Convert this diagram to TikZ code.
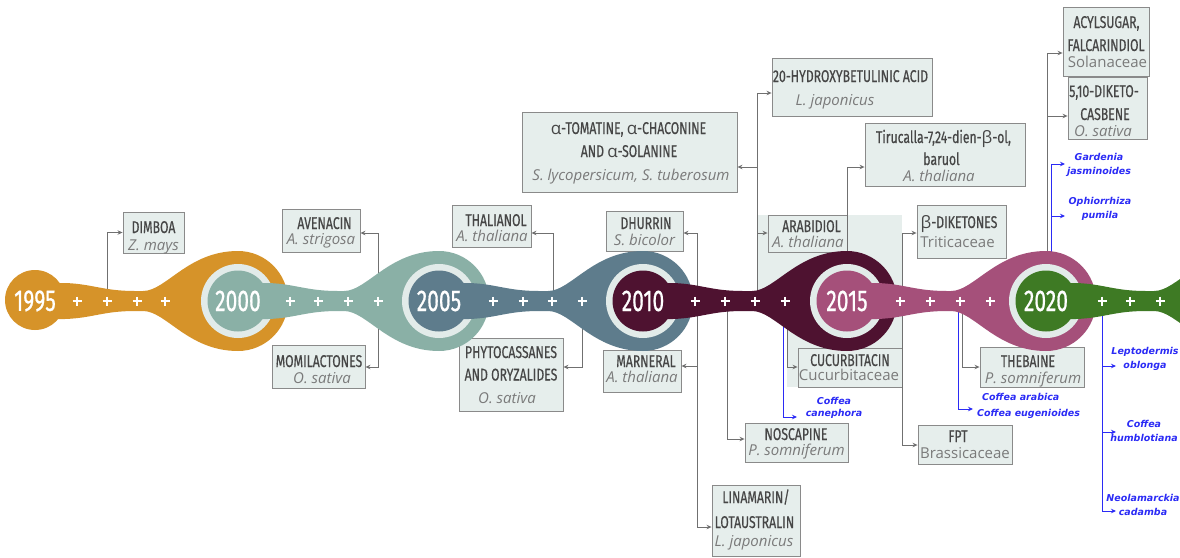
\documentclass[tikz,border=0pt]{standalone}
\usepackage{fontspec}
\usetikzlibrary{arrows.meta,fit}
\newfontfamily\nmfont[FakeStretch=0.72,FakeBold=0.45]{Fira Sans}
\newfontfamily\yrfont[FakeStretch=0.70,FakeBold=0.6]{Fira Sans}
\newfontfamily\spfont{Open Sans}
\newfontfamily\grkfont{Open Sans}
\newfontfamily\blfont{DejaVu Sans}
\newcommand\gA{{\grkfont α}}
\newcommand\gB{{\grkfont β}}

\definecolor{c95}{HTML}{D69329}
\definecolor{c00}{HTML}{8AB0A6}
\definecolor{c05}{HTML}{5E7C8C}
\definecolor{c10}{HTML}{4E1230}
\definecolor{c15}{HTML}{A5507A}
\definecolor{c20}{HTML}{3E7A24}
\definecolor{ringc}{HTML}{E2EBE9}
\definecolor{boxfill}{HTML}{E6EEEC}
\definecolor{boxline}{HTML}{8A8A8A}
\definecolor{nametext}{HTML}{464646}
\definecolor{sptext}{HTML}{7A7A7A}
\definecolor{linegray}{HTML}{707070}
\definecolor{lineblue}{HTML}{2B2BF5}

% one coloured stretch of the timeline: band leaving year #2,
% narrowing, then flaring into the bulb around year #3
\newcommand\spineseg[3]{%
  \fill[#1] (#2,283) -- ({#2+30},283)
    .. controls ({#2+58},284) and ({#2+68},291) .. ({#2+100},291)
    -- ({#3-95},291)
    .. controls ({#3-72},291) and ({#3-50},251) .. (#3,251)
    arc[start angle=90, end angle=-90, radius=50pt]
    .. controls ({#3-50},351) and ({#3-72},311) .. ({#3-95},311)
    -- ({#2+100},311)
    .. controls ({#2+68},311) and ({#2+58},318) .. ({#2+30},319)
    -- (#2,319) -- cycle;}
% light ring and inner disk of a year bulb
\newcommand\yearbulb[2]{%
  \fill[ringc] (#1,301) circle[radius=37pt];
  \fill[#2] (#1,301) circle[radius=30.5pt];}

\tikzset{
  box/.style={draw=boxline, fill=boxfill, line width=0.9pt, inner sep=0pt},
  nm/.style={inner sep=0pt, anchor=base, text=nametext,
    font=\nmfont\fontsize{17}{18}\selectfont},
  sp/.style={inner sep=0pt, anchor=base, text=sptext,
    font=\spfont\itshape\fontsize{15}{17}\selectfont},
  fam/.style={inner sep=0pt, anchor=base, text=sptext,
    font=\spfont\fontsize{15}{17}\selectfont},
  yr/.style={text=white, inner sep=0pt, font=\yrfont\fontsize{30}{30}\selectfont},
  conn/.style={draw=linegray, line width=0.9pt, -{Stealth[length=5pt,width=4.5pt]}},
  bconn/.style={conn, draw=lineblue},
  blab/.style={text=lineblue, inner sep=0pt, align=center,
    font=\blfont\bfseries\itshape\fontsize{9.5}{14}\selectfont},
  plus/.style={draw=white, line width=1.5pt},
}

\begin{document}
\begin{tikzpicture}[x=1pt,y=-1pt]
\useasboundingbox (0,0) rectangle (1180,557);
\clip (0,0) rectangle (1180,557);

% shaded panel behind the 2015 entries
\fill[boxfill] (757,215) rectangle (902,301);
\fill[boxfill] (787,301) rectangle (902,387);

% ---- boxes ----
\node[box, fit={(123,212)(184,253)}] (dimboa) {};
\node[nm] (dimboa-n) at (153.5,233) {DIMBOA};
\node[sp] (dimboa-s) at (153.5,250) {Z. mays};

\node[box, fit={(282,209)(360,252)}] (avenacin) {};
\node[nm] (avenacin-n) at (324.5,229) {AVENACIN};
\node[sp] (avenacin-s) at (321,244) {A. strigosa};

\node[box, fit={(272,345)(365,388)}] (momil) {};
\node[nm] (momil-n) at (319,367) {MOMILACTONES};
\node[sp] (momil-s) at (322,383) {O. sativa};

\node[box, fit={(452,205)(531,247)}] (thalianol) {};
\node[nm] (thalianol-n) at (496,226) {THALIANOL};
\node[sp] (thalianol-s) at (492,241) {A. thaliana};

\node[box, fit={(459,338)(563,411)}] (phyto) {};
\node[nm] (phyto-n1) at (511,358) {PHYTOCASSANES};
\node[nm] (phyto-n2) at (511,380.5) {AND ORYZALIDES};
\node[sp] (phyto-s) at (507,403) {O. sativa};

\node[box, fit={(522,112)(737,192)}] (tomatine) {};
\node[nm] (tomatine-n1) at (628.5,134) {\gA-TOMATINE, \gA-CHACONINE};
\node[nm] (tomatine-n2) at (629,157) {AND \gA-SOLANINE};
\node[sp] (tomatine-s) at (631,180) {S. lycopersicum, S. tuberosum};

\node[box, fit={(606,211)(683,251)}] (dhurrin) {};
\node[nm] (dhurrin-n) at (646,229) {DHURRIN};
\node[sp] (dhurrin-s) at (644.5,245) {S. bicolor};

\node[box, fit={(603,350)(681,392)}] (marneral) {};
\node[nm] (marneral-n) at (646,367) {MARNERAL};
\node[sp] (marneral-s) at (642,382) {A. thaliana};

\node[box, fit={(745,423)(848,462)}] (noscapine) {};
\node[nm] (noscapine-n) at (796,440) {NOSCAPINE};
\node[sp] (noscapine-s) at (796.5,455) {P. somniferum};

\node[box, fit={(712,485)(800,556)}] (linamarin) {};
\node[nm] (linamarin-n1) at (756,503) {LINAMARIN/};
\node[nm] (linamarin-n2) at (754.5,528) {LOTAUSTRALIN};
\node[sp] (linamarin-s) at (754,546) {L. japonicus};

\node[box, fit={(772,58)(932,116)}] (hydroxy) {};
\node[nm] (hydroxy-n) at (850.5,82) {20-HYDROXYBETULINIC ACID};
\node[sp] (hydroxy-s) at (835,105) {L. japonicus};

\node[box, fit={(768,215)(847,252)}] (arabidiol) {};
\node[nm] (arabidiol-n) at (811.5,232) {ARABIDIOL};
\node[sp] (arabidiol-s) at (808,247) {A. thaliana};

\node[box, fit={(865,123)(1025,186)}] (tirucalla) {};
\node[nm] (tirucalla-n1) at (943.5,143) {Tirucalla-7,24-dien-\gB-ol,};
\node[nm] (tirucalla-n2) at (941.5,165) {baruol};
\node[sp] (tirucalla-s) at (939,181) {A. thaliana};

\node[box, fit={(917,205)(1006,258)}] (betadik) {};
\node[nm] (betadik-n) at (959,228) {\gB-DIKETONES};
\node[fam] (betadik-s) at (957.5,247) {Triticaceae};

\node[box, fit={(918,425)(1012,464)}] (fpt) {};
\node[nm] (fpt-n) at (958,442) {FPT};
\node[fam] (fpt-s) at (965,458) {Brassicaceae};

\node[box, fit={(798,348)(902,387)}] (cucurb) {};
\node[nm] (cucurb-n) at (850,366) {CUCURBITACIN};
\node[fam] (cucurb-s) at (849,380) {Cucurbitaceae};

\node[box, fit={(980,347)(1084,387)}] (thebaine) {};
\node[nm] (thebaine-n) at (1028,367) {THEBAINE};
\node[sp] (thebaine-s) at (1033,383) {P. somniferum};

\node[box, fit={(1063,7)(1149,76)}] (acyl) {};
\node[nm] (acyl-n1) at (1106.5,28) {ACYLSUGAR,};
\node[nm] (acyl-n2) at (1106,51) {FALCARINDIOL};
\node[fam] (acyl-s) at (1107.5,67) {Solanaceae};

\node[box, fit={(1068,77)(1147,139)}] (diketo) {};
\node[nm] (diketo-n1) at (1104,97) {5,10-DIKETO-};
\node[nm] (diketo-n2) at (1105,120) {CASBENE};
\node[sp] (diketo-s) at (1103,136) {O. sativa};

% ---- blue species labels ----
\node[blab, font=\blfont\bfseries\itshape\fontsize{9.5}{12.5}\selectfont] (canephora) at (834,408) {Coffea\\canephora};
\node[blab, anchor=west] (arabica) at (982,397) {Coffea arabica};
\node[blab, anchor=west] (eugenioides) at (977,414) {Coffea eugenioides};
\node[blab] (gardenia) at (1099,165) {Gardenia\\jasminoides};
\node[blab] (ophio) at (1100,209) {Ophiorrhiza\\pumila};
\node[blab] (lepto) at (1145,359) {Leptodermis\\oblonga};
\node[blab] (humb) at (1144,431) {Coffea\\humblotiana};
\node[blab] (neola) at (1143,505) {Neolamarckia\\cadamba};

% ---- connector roots on the timeline ----
\foreach \x in {107,378,553,582,697,727,757,783,787,847,902,958,962,1047,1051,1102}
  \coordinate (s\x) at (\x,301);
\coordinate (j757) at (757,167);
\coordinate (t-canephora) at (797,417);
\coordinate (t-eugen) at (973,409);
\coordinate (t-gard) at (1065,164);
\coordinate (t-ophio) at (1065,216);
\coordinate (t-lepto) at (1116,366);
\coordinate (t-humb) at (1116,432);
\coordinate (t-neo) at (1116,511);

% ---- grey connectors ----
\draw[conn] (s107) |- (dimboa.west);
\draw[conn] (s378) |- (avenacin.east |- 0,233);
\draw[conn] (s378) |- (momil.east |- 0,367);
\draw[conn] (s553) |- (thalianol.east |- 0,233);
\draw[conn] (s582) |- (phyto.east |- 0,367);
\draw[conn] (s697) |- (dhurrin.east |- 0,233);
\draw[conn] (s697) |- (marneral.east |- 0,366);
\draw[conn] (s697) |- (linamarin.west |- 0,527);
\draw[conn] (s727) |- (noscapine.west |- 0,439);
\draw[conn] (s757) |- (hydroxy.west |- 0,93);
\draw[conn] (j757) -- (tomatine.east |- 0,167);
\draw[conn] (s757) |- (arabidiol.west |- 0,233);
\draw[conn] (s847) |- (tirucalla.west |- 0,167);
\draw[conn] (s787) |- (cucurb.west |- 0,367);
\draw[conn] (s902) |- (betadik.west |- 0,233);
\draw[conn] (s902) |- (fpt.west |- 0,445);
\draw[conn] (s962) |- (thebaine.west |- 0,367);
\draw[conn] (s1047) |- (acyl.west |- 0,53);
\draw[conn] (s1047) |- (diketo.west |- 0,116);

% ---- blue connectors ----
\draw[bconn] (s783) |- (t-canephora);
\draw[bconn] (s958) |- (t-eugen);
\draw[bconn] (s1051) |- (t-gard);
\draw[bconn] (s1051) |- (t-ophio);
\draw[bconn] (s1102) |- (t-lepto);
\draw[bconn] (s1102) |- (t-humb);
\draw[bconn] (s1102) |- (t-neo);

% ---- timeline ----
\fill[c95] (35,300) circle[radius=30pt];
\spineseg{c95}{35}{238}
\yearbulb{238}{c00}
\spineseg{c00}{238}{439}
\yearbulb{439}{c05}
\spineseg{c05}{439}{643}
\yearbulb{643}{c10}
\spineseg{c10}{643}{847}
\yearbulb{847}{c15}
\spineseg{c15}{847}{1046}
\yearbulb{1046}{c20}
\spineseg{c20}{1046}{1249}

\foreach \x in {77,107,137,165, 290,318,348,378, 493,523,552,582,
                695,725,755,785, 900,930,960,990, 1102,1130,1160}
  \draw[plus] (\x-4.5,301) -- (\x+4.5,301) (\x,296.5) -- (\x,305.5);

\node[yr] (y1995) at (35,301) {1995};
\node[yr] (y2000) at (238,301) {2000};
\node[yr] (y2005) at (439,301) {2005};
\node[yr] (y2010) at (643,301) {2010};
\node[yr] (y2015) at (847,301) {2015};
\node[yr] (y2020) at (1046,301) {2020};
\end{tikzpicture}
\end{document}
